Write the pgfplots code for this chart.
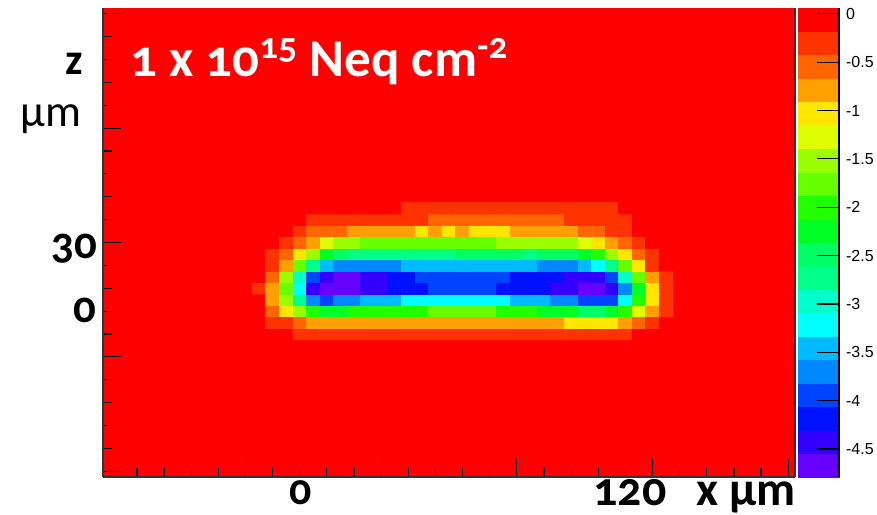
\documentclass[border=0pt]{standalone}
\usepackage{fontspec}
\usepackage{pgfplots}
\pgfplotsset{compat=1.18}
\newfontfamily\lbl{Carlito}[Numbers=OldStyle]
\newfontfamily\cbfont{Liberation Sans}
\definecolor{rootred}{HTML}{FF0000}
\definecolor{framegray}{HTML}{333333}

\begin{document}
\begin{tikzpicture}
\begin{axis}[
  at={(0,0)}, anchor=south west,
  scale only axis, width=346pt, height=234.5pt,
  xmin=-2.5, xmax=252.5, ymin=-2.5, ymax=202.5,
  axis background/.style={fill=rootred},
  axis x line*=bottom, axis y line*=left,
  axis line style={draw=framegray, line width=0.6pt},
  xtick={0,50,...,250}, ytick={0,50,...,200},
  minor x tick num=4, minor y tick num=4,
  xticklabels={}, yticklabels={},
  tick align=inside, major tick length=9pt, minor tick length=4.5pt,
  tick style={black, line width=0.6pt},
  colormap={rootpal}{
    rgb255=(102,0,255) rgb255=(51,0,255) rgb255=(0,17,255) rgb255=(0,68,255)
    rgb255=(0,136,255) rgb255=(0,187,255) rgb255=(0,255,255) rgb255=(0,255,204)
    rgb255=(0,255,136) rgb255=(0,255,102) rgb255=(0,255,34) rgb255=(34,255,0)
    rgb255=(102,255,0) rgb255=(153,255,0) rgb255=(221,255,0) rgb255=(255,230,0)
    rgb255=(255,160,0) rgb255=(255,102,0) rgb255=(255,51,0) rgb255=(255,0,0)},
  colormap access=piecewise constant,
  point meta min=-4.79, point meta max=0.06,
  colorbar,
  colorbar style={
    at={(parent axis.north east)}, anchor=north west, xshift=-7pt,
    scale only axis, width=20.5pt, height=234.5pt,
    axis x line=none, axis y line*=right,
    axis line style={draw=black, line width=0.6pt},
    ytick={-4.5,-4,-3.5,-3,-2.5,-2,-1.5,-1,-0.5,0},
    yticklabels={-4.5,-4,-3.5,-3,-2.5,-2,-1.5,-1,-0.5,0},
    yticklabel style={font=\cbfont\fontsize{8}{8}\selectfont},
    tick align=inside, major tick length=11pt,
    ytick style={black, line width=0.6pt},
  },
]
\addplot[matrix plot*, mesh/cols=31, point meta=explicit]
  table[row sep=\\, x=x, y=y, meta=c] {
x y c\\
55 60 -0.06\\ 60 60 -0.06\\ 65 60 -0.06\\ 70 60 -0.30\\ 75 60 -0.30\\ 80 60 -0.30\\ 85 60 -0.30\\ 90 60 -0.30\\ 95 60 -0.30\\ 100 60 -0.30\\ 105 60 -0.30\\ 110 60 -0.30\\ 115 60 -0.30\\ 120 60 -0.30\\ 125 60 -0.30\\ 130 60 -0.30\\ 135 60 -0.30\\ 140 60 -0.30\\ 145 60 -0.30\\ 150 60 -0.30\\ 155 60 -0.30\\ 160 60 -0.30\\ 165 60 -0.30\\ 170 60 -0.30\\ 175 60 -0.30\\ 180 60 -0.30\\ 185 60 -0.30\\ 190 60 -0.30\\ 195 60 -0.06\\ 200 60 -0.06\\ 205 60 -0.06\\
55 65 -0.06\\ 60 65 -0.30\\ 65 65 -0.30\\ 70 65 -0.55\\ 75 65 -0.79\\ 80 65 -0.79\\ 85 65 -0.79\\ 90 65 -0.79\\ 95 65 -0.79\\ 100 65 -0.79\\ 105 65 -0.79\\ 110 65 -0.79\\ 115 65 -0.79\\ 120 65 -0.79\\ 125 65 -0.79\\ 130 65 -0.79\\ 135 65 -0.79\\ 140 65 -0.79\\ 145 65 -0.79\\ 150 65 -0.79\\ 155 65 -0.79\\ 160 65 -0.79\\ 165 65 -0.79\\ 170 65 -1.03\\ 175 65 -1.03\\ 180 65 -1.03\\ 185 65 -1.03\\ 190 65 -0.79\\ 195 65 -0.55\\ 200 65 -0.30\\ 205 65 -0.06\\
55 70 -0.06\\ 60 70 -0.55\\ 65 70 -1.03\\ 70 70 -1.52\\ 75 70 -2.00\\ 80 70 -2.24\\ 85 70 -2.24\\ 90 70 -2.00\\ 95 70 -2.00\\ 100 70 -2.00\\ 105 70 -2.00\\ 110 70 -2.00\\ 115 70 -2.00\\ 120 70 -1.76\\ 125 70 -1.76\\ 130 70 -1.76\\ 135 70 -1.76\\ 140 70 -1.76\\ 145 70 -2.00\\ 150 70 -2.00\\ 155 70 -2.00\\ 160 70 -2.24\\ 165 70 -2.24\\ 170 70 -2.24\\ 175 70 -2.49\\ 180 70 -2.49\\ 185 70 -2.24\\ 190 70 -2.00\\ 195 70 -1.27\\ 200 70 -0.79\\ 205 70 -0.30\\
55 75 -0.06\\ 60 75 -0.79\\ 65 75 -1.52\\ 70 75 -2.73\\ 75 75 -3.70\\ 80 75 -3.94\\ 85 75 -3.70\\ 90 75 -3.70\\ 95 75 -3.46\\ 100 75 -3.46\\ 105 75 -3.46\\ 110 75 -3.21\\ 115 75 -3.21\\ 120 75 -3.21\\ 125 75 -3.21\\ 130 75 -3.21\\ 135 75 -3.21\\ 140 75 -3.21\\ 145 75 -3.21\\ 150 75 -3.46\\ 155 75 -3.46\\ 160 75 -3.46\\ 165 75 -3.70\\ 170 75 -3.70\\ 175 75 -3.94\\ 180 75 -3.94\\ 185 75 -3.94\\ 190 75 -3.21\\ 195 75 -2.00\\ 200 75 -1.03\\ 205 75 -0.30\\
55 80 -0.30\\ 60 80 -0.79\\ 65 80 -1.76\\ 70 80 -3.21\\ 75 80 -4.43\\ 80 80 -4.67\\ 85 80 -4.67\\ 90 80 -4.67\\ 95 80 -4.43\\ 100 80 -4.43\\ 105 80 -4.18\\ 110 80 -4.18\\ 115 80 -4.18\\ 120 80 -3.94\\ 125 80 -3.94\\ 130 80 -3.94\\ 135 80 -3.94\\ 140 80 -3.94\\ 145 80 -4.18\\ 150 80 -4.18\\ 155 80 -4.18\\ 160 80 -4.18\\ 165 80 -4.43\\ 170 80 -4.43\\ 175 80 -4.67\\ 180 80 -4.67\\ 185 80 -4.43\\ 190 80 -3.70\\ 195 80 -2.24\\ 200 80 -1.03\\ 205 80 -0.30\\
55 85 -0.06\\ 60 85 -0.55\\ 65 85 -1.52\\ 70 85 -2.97\\ 75 85 -3.94\\ 80 85 -4.43\\ 85 85 -4.67\\ 90 85 -4.67\\ 95 85 -4.43\\ 100 85 -4.43\\ 105 85 -4.18\\ 110 85 -4.18\\ 115 85 -3.94\\ 120 85 -3.94\\ 125 85 -3.94\\ 130 85 -3.94\\ 135 85 -3.94\\ 140 85 -3.94\\ 145 85 -3.94\\ 150 85 -4.18\\ 155 85 -4.18\\ 160 85 -4.18\\ 165 85 -4.18\\ 170 85 -4.43\\ 175 85 -4.43\\ 180 85 -4.43\\ 185 85 -3.94\\ 190 85 -2.97\\ 195 85 -1.76\\ 200 85 -0.79\\ 205 85 -0.30\\
55 90 -0.06\\ 60 90 -0.30\\ 65 90 -0.79\\ 70 90 -1.76\\ 75 90 -2.73\\ 80 90 -3.46\\ 85 90 -3.70\\ 90 90 -3.70\\ 95 90 -3.70\\ 100 90 -3.70\\ 105 90 -3.70\\ 110 90 -3.46\\ 115 90 -3.46\\ 120 90 -3.46\\ 125 90 -3.46\\ 130 90 -3.46\\ 135 90 -3.46\\ 140 90 -3.46\\ 145 90 -3.46\\ 150 90 -3.46\\ 155 90 -3.46\\ 160 90 -3.70\\ 165 90 -3.70\\ 170 90 -3.70\\ 175 90 -3.46\\ 180 90 -3.21\\ 185 90 -2.73\\ 190 90 -1.76\\ 195 90 -1.03\\ 200 90 -0.30\\ 205 90 -0.06\\
55 95 -0.06\\ 60 95 -0.30\\ 65 95 -0.55\\ 70 95 -1.03\\ 75 95 -1.52\\ 80 95 -2.24\\ 85 95 -2.49\\ 90 95 -2.73\\ 95 95 -2.73\\ 100 95 -2.73\\ 105 95 -2.73\\ 110 95 -2.73\\ 115 95 -2.73\\ 120 95 -2.73\\ 125 95 -2.73\\ 130 95 -2.49\\ 135 95 -2.49\\ 140 95 -2.49\\ 145 95 -2.49\\ 150 95 -2.49\\ 155 95 -2.73\\ 160 95 -2.49\\ 165 95 -2.49\\ 170 95 -2.49\\ 175 95 -2.24\\ 180 95 -2.00\\ 185 95 -1.52\\ 190 95 -1.03\\ 195 95 -0.55\\ 200 95 -0.30\\ 205 95 -0.06\\
55 100 -0.06\\ 60 100 -0.06\\ 65 100 -0.30\\ 70 100 -0.55\\ 75 100 -0.79\\ 80 100 -1.27\\ 85 100 -1.52\\ 90 100 -1.52\\ 95 100 -1.76\\ 100 100 -1.76\\ 105 100 -1.76\\ 110 100 -1.76\\ 115 100 -1.76\\ 120 100 -1.76\\ 125 100 -1.76\\ 130 100 -1.76\\ 135 100 -1.76\\ 140 100 -1.76\\ 145 100 -1.52\\ 150 100 -1.52\\ 155 100 -1.52\\ 160 100 -1.52\\ 165 100 -1.52\\ 170 100 -1.52\\ 175 100 -1.27\\ 180 100 -1.03\\ 185 100 -0.79\\ 190 100 -0.55\\ 195 100 -0.30\\ 200 100 -0.06\\ 205 100 -0.06\\
55 105 -0.06\\ 60 105 -0.06\\ 65 105 -0.06\\ 70 105 -0.30\\ 75 105 -0.55\\ 80 105 -0.55\\ 85 105 -0.55\\ 90 105 -0.79\\ 95 105 -0.79\\ 100 105 -0.79\\ 105 105 -0.79\\ 110 105 -0.79\\ 115 105 -1.03\\ 120 105 -0.79\\ 125 105 -1.03\\ 130 105 -0.79\\ 135 105 -1.03\\ 140 105 -1.03\\ 145 105 -1.03\\ 150 105 -0.79\\ 155 105 -0.79\\ 160 105 -0.79\\ 165 105 -0.79\\ 170 105 -0.79\\ 175 105 -0.55\\ 180 105 -0.55\\ 185 105 -0.30\\ 190 105 -0.30\\ 195 105 -0.06\\ 200 105 -0.06\\ 205 105 -0.06\\
55 110 -0.06\\ 60 110 -0.06\\ 65 110 -0.06\\ 70 110 -0.06\\ 75 110 -0.30\\ 80 110 -0.30\\ 85 110 -0.30\\ 90 110 -0.30\\ 95 110 -0.30\\ 100 110 -0.30\\ 105 110 -0.30\\ 110 110 -0.30\\ 115 110 -0.30\\ 120 110 -0.55\\ 125 110 -0.55\\ 130 110 -0.55\\ 135 110 -0.55\\ 140 110 -0.55\\ 145 110 -0.55\\ 150 110 -0.55\\ 155 110 -0.55\\ 160 110 -0.55\\ 165 110 -0.55\\ 170 110 -0.30\\ 175 110 -0.30\\ 180 110 -0.30\\ 185 110 -0.30\\ 190 110 -0.30\\ 195 110 -0.06\\ 200 110 -0.06\\ 205 110 -0.06\\
55 115 -0.06\\ 60 115 -0.06\\ 65 115 -0.06\\ 70 115 -0.06\\ 75 115 -0.06\\ 80 115 -0.06\\ 85 115 -0.06\\ 90 115 -0.06\\ 95 115 -0.06\\ 100 115 -0.06\\ 105 115 -0.06\\ 110 115 -0.30\\ 115 115 -0.30\\ 120 115 -0.30\\ 125 115 -0.30\\ 130 115 -0.30\\ 135 115 -0.30\\ 140 115 -0.30\\ 145 115 -0.30\\ 150 115 -0.30\\ 155 115 -0.30\\ 160 115 -0.30\\ 165 115 -0.30\\ 170 115 -0.30\\ 175 115 -0.30\\ 180 115 -0.30\\ 185 115 -0.30\\ 190 115 -0.06\\ 195 115 -0.06\\ 200 115 -0.06\\ 205 115 -0.06\\
};
\end{axis}
% right edge of the frame
\draw[framegray, line width=0.6pt] (346pt,0pt) -- (346pt,234.5pt);
% annotations
\node[anchor=base west, inner sep=0pt, text=white, font=\lbl\bfseries\fontsize{26.5}{26.5}\selectfont]
  at (13.5pt,200pt) {1 x 10\textsuperscript{15} Neq cm\textsuperscript{-2}};
\node[anchor=base east, inner sep=0pt, font=\lbl\bfseries\fontsize{22}{22}\selectfont] at (-10pt,201pt) {z};
\node[anchor=base east, inner sep=0pt, font=\lbl\fontsize{22.5}{22.5}\selectfont] at (-10.5pt,175pt) {µm};
\node[anchor=base east, inner sep=0pt, font=\lbl\bfseries\fontsize{22.5}{22.5}\selectfont] at (-2.5pt,109pt) {30};
\node[anchor=base east, inner sep=0pt, font=\lbl\bfseries\fontsize{22.5}{22.5}\selectfont] at (-3pt,77.5pt) {0};
\node[anchor=base, inner sep=0pt, font=\lbl\bfseries\fontsize{22}{22}\selectfont] at (99pt,-13.5pt) {0};
\node[anchor=base west, inner sep=0pt, font=\lbl\bfseries\fontsize{24}{24}\selectfont] at (245pt,-14pt) {120};
\node[anchor=base west, inner sep=0pt, font=\lbl\fontsize{24}{24}\selectfont] at (296.5pt,-14pt) {\bfseries x µm};
\pgfresetboundingbox
\path[use as bounding box] (-51.5pt,-18.5pt) rectangle (387pt,238.5pt);
\end{tikzpicture}
\end{document}
